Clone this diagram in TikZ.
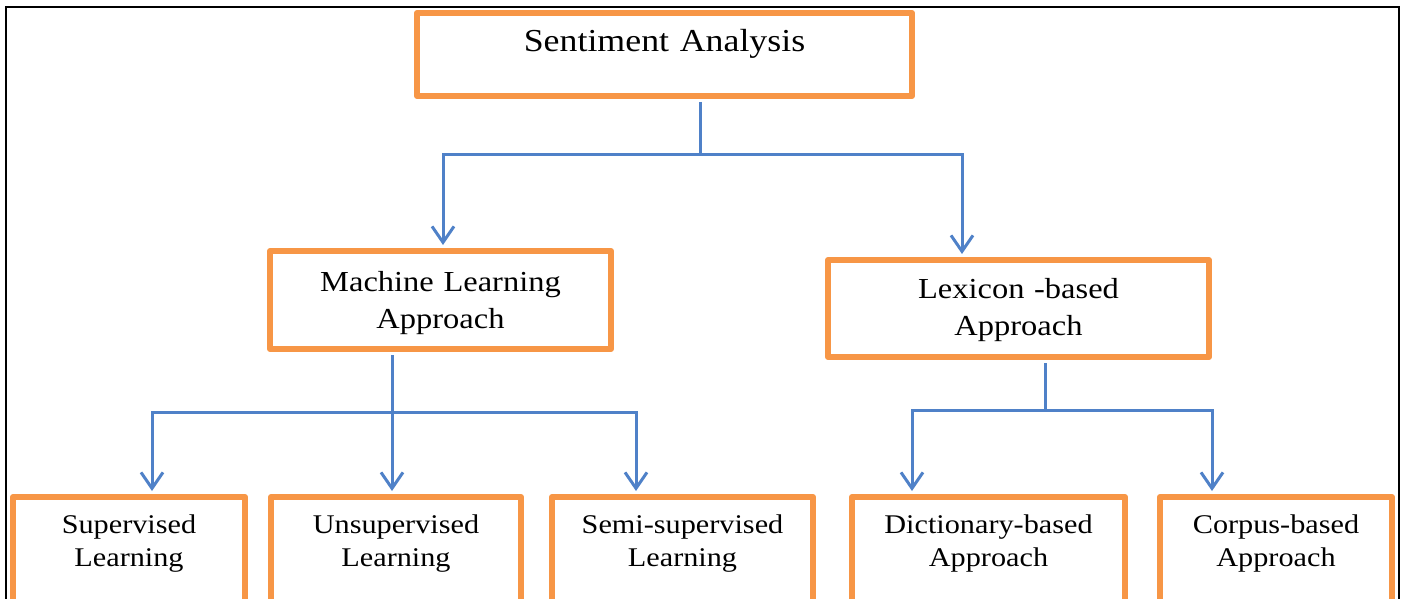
\documentclass[tikz,border=0pt]{standalone}
\usepackage{fontspec}
\setmainfont{Liberation Serif}[FakeStretch=1.12]
\usetikzlibrary{arrows.meta}
\definecolor{boxorange}{RGB}{247,150,70}
\definecolor{linkblue}{RGB}{79,129,200}
\begin{document}
\begin{tikzpicture}[
  x=1pt, y=-1pt,
  abox/.style={draw=boxorange, line width=6pt, line join=round, inner sep=0pt,
    align=center, anchor=base},
  toptext/.style={font=\fontsize{32}{38}\selectfont},
  midtext/.style={font=\fontsize{29}{37}\selectfont},
  lowtext/.style={font=\fontsize{27}{33}\selectfont, text height=36pt, text depth=87pt},
  link/.style={draw=linkblue, line width=3pt, shorten <=3pt},
  arr/.style={draw=linkblue, line width=3pt, shorten >=3pt,
    -{Straight Barb[length=16pt, width=22pt]}}
]
  \useasboundingbox (0,0) rectangle (1403,599);
  \draw[line width=2.5pt] (6,7) rectangle (1399,640);

  \node[abox, toptext, text width=495pt, text height=39pt, text depth=44pt] (sa) at (664.5,52) {Sentiment Analysis};
  \node[abox, midtext, text width=341pt, text height=40pt, text depth=58pt] (ml) at (440.5,291) {Machine Learning\\Approach};
  \node[abox, midtext, text width=381pt, text height=38pt, text depth=59pt] (lex) at (1018.5,298) {Lexicon -based\\Approach};
  \node[abox, lowtext, text width=232pt] (sup) at (129,533) {Supervised\\Learning};
  \node[abox, lowtext, text width=250pt] (uns) at (396,533) {Unsupervised\\Learning};
  \node[abox, lowtext, text width=261pt] (semi) at (682.5,533) {Semi-supervised\\Learning};
  \node[abox, lowtext, text width=273pt] (dict) at (988.5,533) {Dictionary-based\\Approach};
  \node[abox, lowtext, text width=232pt] (corp) at (1276,533) {Corpus-based\\Approach};

  \coordinate (j1) at (700,155);
  \coordinate (j2) at (392,412);
  \coordinate (j3) at (1045,410);
  \draw[link] (sa.south -| j1) -- (j1);
  \draw[arr] (j1) -| ([xshift=2.5pt]ml.north);
  \draw[arr] (j1) -| ([xshift=-56.5pt]lex.north);
  \draw[link] (ml.south -| j2) -- (j2);
  \draw[arr] (j2) -| ([xshift=23pt]sup.north);
  \draw[arr] (j2) -- (j2 |- uns.north);
  \draw[arr] (j2) -| ([xshift=-46.5pt]semi.north);
  \draw[link] (lex.south -| j3) -- (j3);
  \draw[arr] (j3) -| ([xshift=-76.5pt]dict.north);
  \draw[arr] (j3) -| ([xshift=-64pt]corp.north);
\end{tikzpicture}
\end{document}
